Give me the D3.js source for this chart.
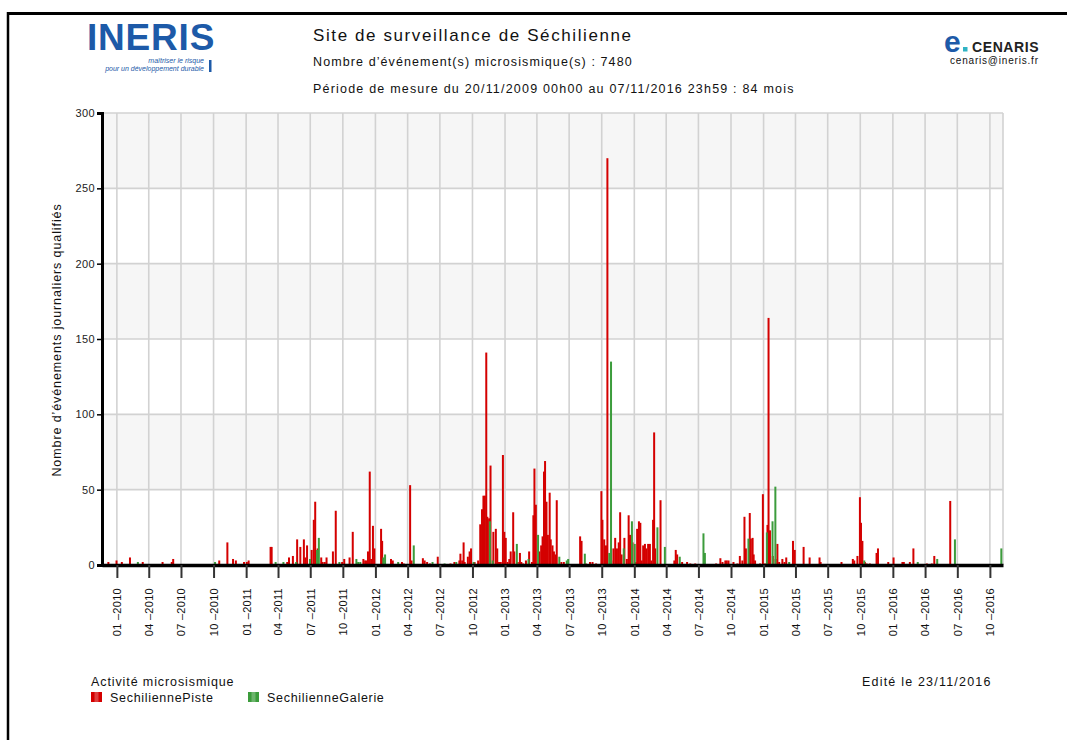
<!DOCTYPE html>
<html>
<head>
<meta charset="utf-8">
<script src="https://cdn.jsdelivr.net/npm/d3@7"></script>
<style>
  body { margin: 0; background: #fff; font-family: "Liberation Sans", Arial, sans-serif; }
  svg text { font-family: "Liberation Sans", Arial, sans-serif; }
</style>
</head>
<body>
<div id="chart"></div>
<script>
// Period covered by the chart
var periodStart = "2009-11-20";
var periodEnd = "2016-11-07";

// Y axis tick values
var yTicks = [0, 50, 100, 150, 200, 250, 300];

// Series names
var seriesNames = ["SechiliennePiste", "SechilienneGalerie"];

// SechiliennePiste : daily counts (dates / values)
var pisteDates = [
  "2009-12-08","2009-12-31","2010-01-15","2010-02-07","2010-03-15","2010-05-10","2010-06-05","2010-06-09",
  "2010-10-17","2010-11-09","2010-11-25","2010-12-03","2010-12-26","2011-01-03","2011-01-08","2011-03-11",
  "2011-03-14","2011-04-27","2011-05-02","2011-05-13","2011-05-25","2011-06-03","2011-06-13","2011-06-17",
  "2011-06-22","2011-07-05","2011-07-11","2011-07-15","2011-07-22","2011-08-01","2011-08-05","2011-08-11",
  "2011-08-16","2011-09-03","2011-09-11","2011-09-29","2011-10-05","2011-10-20","2011-10-29","2011-11-28",
  "2011-12-03","2011-12-07","2011-12-11","2011-12-16","2011-12-20","2011-12-25","2011-12-29","2012-01-17",
  "2012-01-20","2012-02-14","2012-02-19","2012-03-16","2012-03-21","2012-04-08","2012-04-12","2012-05-14",
  "2012-05-19","2012-05-26","2012-06-03","2012-06-25","2012-07-31","2012-08-11","2012-08-25","2012-08-28",
  "2012-09-02","2012-09-06","2012-09-09","2012-09-18","2012-09-23","2012-09-27","2012-10-07","2012-10-17",
  "2012-10-23","2012-10-28","2012-11-01","2012-11-05","2012-11-09","2012-11-12","2012-11-17","2012-11-21",
  "2012-11-29","2012-12-06","2012-12-10","2012-12-15","2012-12-20","2012-12-26","2012-12-30","2013-01-03",
  "2013-01-08","2013-01-13","2013-01-17","2013-01-24","2013-01-27","2013-02-06","2013-02-12","2013-02-16",
  "2013-02-21","2013-03-01","2013-03-10","2013-03-18","2013-03-22","2013-03-25","2013-03-29","2013-04-08",
  "2013-04-13","2013-04-17","2013-04-21","2013-04-24","2013-04-28","2013-05-02","2013-05-07","2013-05-10",
  "2013-05-15","2013-05-19","2013-05-23","2013-05-27","2013-06-09","2013-06-16","2013-08-01","2013-08-05",
  "2013-08-17","2013-08-29","2013-09-05","2013-09-15","2013-09-30","2013-10-03","2013-10-08","2013-10-13",
  "2013-10-17","2013-10-28","2013-11-03","2013-11-08","2013-11-13","2013-11-18","2013-11-22","2013-11-26",
  "2013-12-04","2013-12-11","2013-12-16","2013-12-20","2013-12-27","2014-01-05","2014-01-09","2014-01-14",
  "2014-01-18","2014-01-22","2014-01-26","2014-01-31","2014-02-04","2014-02-09","2014-02-14","2014-02-18",
  "2014-02-23","2014-02-26","2014-03-01","2014-03-16","2014-04-24","2014-04-28","2014-05-02","2014-05-16",
  "2014-05-30","2014-06-08","2014-06-22","2014-08-20","2014-09-01","2014-09-07","2014-09-15","2014-09-19",
  "2014-09-24","2014-10-08","2014-10-19","2014-10-26","2014-11-02","2014-11-08","2014-11-12","2014-11-23",
  "2014-11-26","2014-12-01","2014-12-04","2014-12-08","2014-12-22","2014-12-30","2015-01-05","2015-01-12",
  "2015-01-15","2015-01-19","2015-01-27","2015-02-04","2015-02-09","2015-02-14","2015-02-23","2015-03-01",
  "2015-03-06","2015-03-25","2015-03-30","2015-04-24","2015-05-11","2015-06-08","2015-06-11","2015-08-09",
  "2015-09-10","2015-09-14","2015-09-23","2015-09-30","2015-10-03","2015-10-07","2015-10-14","2015-10-19",
  "2015-10-28","2015-11-16","2015-11-20","2015-12-19","2016-01-03","2016-01-28","2016-02-01","2016-02-18",
  "2016-02-28","2016-04-06","2016-04-20","2016-04-27","2016-06-11"
];
var pisteValues = [
  2,3,2,5,2,2,2,4,
  3,15,4,3,2,2,3,12,
  12,2,5,6,17,12,17,5,
  13,10,30,42,11,5,2,2,
  5,9,36,2,4,5,22,4,
  3,3,9,62,4,26,11,24,
  16,4,3,2,1,53,3,4.5,
  3,2,1,5.5,1,2,3,7.5,
  3,15,2,5.5,9,11,2,3,
  27,37,46,46,141,32,31,66,
  22,24,11,2,2,73,22,18,
  2,4,9,35,9,2,8,2,
  1,3,9,2,33,64,40,9,
  13,19,62,69,42,20,48,17,
  13,9,7,43,2,2,19,16,
  1,2,2,1,49,30,17,13,
  270,3,11,18,11,15,35,7,
  18,4,33,20,15,2,24,29,
  28,3,13,14,11,14,14,3,
  30,88,11,43,3,10,7,2,
  2,1,1,1,4.5,2,3,3,
  3,2,1,6,3,32,11,34.5,
  17.5,18,7,3,1,47,1,26.6,
  164,23,6,4,14,2,4,2,
  5,16,10,12,5,5,2,2,
  4,3,6,45,28,16,2,1,
  1,8,11,2,5,2,2,2,
  11,1,1,6,42.5
];

// SechilienneGalerie : daily counts (dates / values)
var galerieDates = [
  "2010-02-27","2010-10-03","2011-03-23","2011-04-14","2011-05-20","2011-06-28","2011-07-18","2011-07-23",
  "2011-09-19","2011-11-06","2011-11-11","2011-11-17","2012-01-21","2012-01-26","2012-03-03","2012-04-16",
  "2012-06-08","2012-07-12","2012-08-14","2012-10-02","2012-11-17","2012-11-25","2013-02-01","2013-03-06",
  "2013-04-02","2013-06-01","2013-06-22","2013-06-26","2013-08-12","2013-10-20","2013-10-25","2013-11-30",
  "2013-12-23","2013-12-31","2014-03-05","2014-03-26","2014-05-07","2014-07-13","2014-07-17","2014-11-17",
  "2015-01-08","2015-01-24","2015-02-01","2015-03-12","2015-10-10","2016-03-09","2016-05-03","2016-06-22",
  "2016-10-31"
];
var galerieValues = [
  2,2,2,2,2,4,10,18,
  2,4,2,2,5,7,2,13,
  2,1,2,2,29,3,14,4,
  20,5.5,3,4,7.5,8,135,11,
  29,14,25,12,5.5,21,8,17.5,
  21.6,29,52,2,3,2,4,17,
  11
];

function init() {
    var w = 1067;
    var h = 740;
    // plot area, in page pixels
    var left = 102, right = 1003, top = 113, bottom = 565;

    var parse = d3.timeParse("%Y-%m-%d");
    var fmt = d3.timeFormat("%m");
    var fmtY = d3.timeFormat("%Y");

    var svg = d3.select("#chart")
        .append("svg")
        .attr("width", w)
        .attr("height", h);

    // page frame (top and left lines)
    svg.append("line").attr("x1", 7).attr("x2", w).attr("y1", 13.5).attr("y2", 13.5)
        .attr("stroke", "#000").attr("stroke-width", 3);
    svg.append("line").attr("x1", 8).attr("x2", 8).attr("y1", 12).attr("y2", h)
        .attr("stroke", "#000").attr("stroke-width", 2.5);

    // scales
    var x = d3.scaleTime()
        .domain([parse(periodStart), parse(periodEnd)])
        .range([left, right]);

    var y = d3.scaleLinear()
        .domain([0, 300])
        .range([bottom, top]);

    var color = d3.scaleOrdinal()
        .domain(seriesNames)
        .range(["#d40000", "#3c9c3c"]);

    // alternating background bands
    var bands = [];
    for (var i = 0; i < yTicks.length - 1; i++) bands.push([yTicks[i], yTicks[i + 1]]);
    svg.append("g").selectAll("rect")
        .data(bands)
        .enter().append("rect")
        .attr("x", left)
        .attr("width", right - left)
        .attr("y", function (d) { return y(d[1]); })
        .attr("height", function (d) { return y(d[0]) - y(d[1]); })
        .attr("fill", function (d, i) { return i % 2 === 1 ? "#f6f6f6" : "#fff"; });

    // quarterly ticks
    var xTicks = x.ticks(d3.timeMonth.every(3));

    // grid
    var grid = svg.append("g").attr("stroke", "#d2d2d2").attr("stroke-width", 1.6);
    grid.selectAll(".vg")
        .data(xTicks.concat([parse(periodEnd)]))
        .enter().append("line")
        .attr("x1", function (d) { return x(d); })
        .attr("x2", function (d) { return x(d); })
        .attr("y1", top)
        .attr("y2", bottom);
    grid.selectAll(".hg")
        .data(yTicks.slice(1))
        .enter().append("line")
        .attr("x1", left)
        .attr("x2", right)
        .attr("y1", function (d) { return y(d); })
        .attr("y2", function (d) { return y(d); });

    // bars
    var barW = 2;
    function drawBars(dates, values, name, dx) {
        var data = dates.map(function (d, i) { return { date: parse(d), value: values[i] }; });
        svg.append("g")
            .attr("fill", color(name))
            .selectAll("rect")
            .data(data)
            .enter().append("rect")
            .attr("x", function (d) { return x(d.date) - barW / 2 + dx; })
            .attr("y", function (d) { return y(d.value); })
            .attr("width", barW)
            .attr("height", function (d) { return y(0) - y(d.value); });
    }
    drawBars(pisteDates, pisteValues, seriesNames[0], 0);
    drawBars(galerieDates, galerieValues, seriesNames[1], 0.8);

    // y axis
    var yAxis = svg.append("g")
        .attr("transform", "translate(" + left + ",0)")
        .call(d3.axisLeft(y).tickValues(yTicks).tickSize(5).tickPadding(2));
    yAxis.select(".domain").attr("stroke", "#000").attr("stroke-width", 3);
    yAxis.selectAll(".tick line").attr("stroke", "#000").attr("stroke-width", 1.5);
    yAxis.selectAll("text").attr("font-size", 11).attr("fill", "#222").attr("letter-spacing", 0.4);

    // x axis (no outer ticks)
    var xAxis = svg.append("g")
        .attr("transform", "translate(0," + bottom + ")")
        .call(d3.axisBottom(x).tickValues(xTicks).tickSize(13).tickSizeOuter(0)
            .tickFormat(function (d) { return fmt(d) + " \u2013" + fmtY(d); }));
    xAxis.select(".domain").attr("stroke", "#000").attr("stroke-width", 3.5);
    xAxis.selectAll(".tick line").attr("stroke", "#333").attr("stroke-width", 2);
    xAxis.selectAll("text")
        .attr("font-size", 11)
        .attr("fill", "#111")
        .attr("letter-spacing", 0.3)
        .attr("text-anchor", "end")
        .attr("dy", "0.35em")
        .attr("transform", "translate(0,23) rotate(-90)")
        .attr("x", 0)
        .attr("y", 0);

    // y axis title
    svg.append("text")
        .attr("transform", "translate(61,340) rotate(-90)")
        .attr("text-anchor", "middle")
        .attr("font-size", 12.5)
        .attr("letter-spacing", 0.9)
        .attr("fill", "#111")
        .text("Nombre d\u2019\u00e9v\u00e9nements journaliers qualifi\u00e9s");

    // header titles
    svg.append("text").attr("x", 313).attr("y", 41).attr("font-size", 17).attr("letter-spacing", 1.6)
        .attr("fill", "#111").text("Site de surveillance de S\u00e9chilienne");
    svg.append("text").attr("x", 313).attr("y", 66).attr("font-size", 12.5).attr("letter-spacing", 1.1)
        .attr("fill", "#111").text("Nombre d\u2019\u00e9v\u00e9nement(s) microsismique(s) : 7480");
    svg.append("text").attr("x", 313).attr("y", 93).attr("font-size", 12.5).attr("letter-spacing", 1.2)
        .attr("fill", "#111").text("P\u00e9riode de mesure du 20/11/2009 00h00 au 07/11/2016 23h59 : 84 mois");

    // INERIS logo
    svg.append("text").attr("x", 87).attr("y", 50).attr("font-size", 37).attr("font-weight", "bold")
        .attr("fill", "#1d5aa8").attr("letter-spacing", 0.8).text("INERIS");
    svg.append("text").attr("x", 204).attr("y", 63).attr("font-size", 7).attr("font-style", "italic")
        .attr("text-anchor", "end").attr("fill", "#1d5aa8").text("ma\u00eetriser le risque");
    svg.append("text").attr("x", 204).attr("y", 71).attr("font-size", 7).attr("font-style", "italic")
        .attr("text-anchor", "end").attr("fill", "#1d5aa8").text("pour un d\u00e9veloppement durable");
    svg.append("rect").attr("x", 209).attr("y", 60).attr("width", 2.5).attr("height", 12).attr("fill", "#1d5aa8");

    // e.CENARIS logo
    svg.append("text").attr("x", 944).attr("y", 52).attr("font-size", 30).attr("font-weight", "bold")
        .attr("fill", "#1d5aa8").text("e");
    svg.append("rect").attr("x", 963).attr("y", 47).attr("width", 4.5).attr("height", 4.5).attr("fill", "#2fb3c4");
    svg.append("text").attr("x", 972).attr("y", 52).attr("font-size", 14).attr("font-weight", "bold")
        .attr("letter-spacing", 0.6).attr("fill", "#222").text("CENARIS");
    svg.append("text").attr("x", 950).attr("y", 64).attr("font-size", 10).attr("letter-spacing", 0.8)
        .attr("fill", "#111").text("cenaris@ineris.fr");

    // legend
    svg.append("text").attr("x", 91).attr("y", 686).attr("font-size", 12.5).attr("letter-spacing", 0.9)
        .attr("fill", "#111").text("Activit\u00e9 microsismique");
    var legendX = [91, 248];
    var leg = svg.append("g").selectAll("g")
        .data(seriesNames)
        .enter().append("g")
        .attr("transform", function (d, i) { return "translate(" + legendX[i] + ",692)"; });
    leg.append("rect").attr("width", 11).attr("height", 10).attr("fill", function (d) { return color(d); });
    leg.append("rect").attr("x", 3.5).attr("width", 4).attr("height", 10).attr("fill", "#fff").attr("opacity", 0.25);
    leg.append("text").attr("x", 19).attr("y", 10).attr("font-size", 12.5).attr("letter-spacing", 0.7)
        .attr("fill", "#111").text(function (d) { return d; });

    svg.append("text").attr("x", 862).attr("y", 686).attr("font-size", 12.5).attr("letter-spacing", 1.2)
        .attr("fill", "#111").text("Edit\u00e9 le 23/11/2016");
}
window.onload = init;
</script>
</body>
</html>
